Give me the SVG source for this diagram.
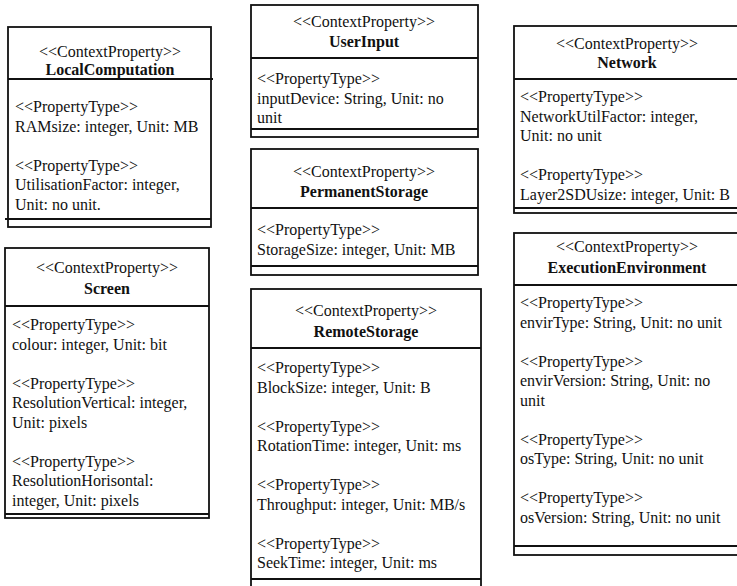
<svg xmlns="http://www.w3.org/2000/svg" width="737" height="586" viewBox="0 0 737 586">
  <style>
    .box { fill: #ffffff; stroke: #111111; stroke-width: 1.8; }
    .sep { stroke: #111111; stroke-width: 1.8; fill: none; }
    text { font-family: "Liberation Serif", "Times New Roman", serif; font-size: 16px; fill: #111111; }
    .st { text-anchor: middle; }
    .nm { text-anchor: middle; font-weight: bold; }
  </style>
  <rect width="737" height="586" fill="#ffffff"/>

  <!-- LocalComputation -->
  <g id="LocalComputation">
    <rect class="box" x="8" y="27" width="203" height="200"/>
    <line class="sep" x1="8" y1="79" x2="213" y2="79"/>
    <line class="sep" x1="5" y1="219" x2="211" y2="219"/>
    <text class="st" x="110" y="56.5">&lt;&lt;ContextProperty&gt;&gt;</text>
    <text class="nm" x="110" y="75">LocalComputation</text>
    <text x="15" y="112">&lt;&lt;PropertyType&gt;&gt;</text>
    <text x="15" y="131.5">RAMsize: integer, Unit: MB</text>
    <text x="15" y="170.5">&lt;&lt;PropertyType&gt;&gt;</text>
    <text x="15" y="190">UtilisationFactor: integer,</text>
    <text x="15" y="209.5">Unit: no unit.</text>
  </g>

  <!-- Screen -->
  <g id="Screen">
    <rect class="box" x="5" y="248" width="204" height="270"/>
    <line class="sep" x1="5" y1="306" x2="209" y2="306"/>
    <line class="sep" x1="5" y1="514" x2="209" y2="514"/>
    <text class="st" x="107" y="273">&lt;&lt;ContextProperty&gt;&gt;</text>
    <text class="nm" x="107" y="294">Screen</text>
    <text x="12" y="330">&lt;&lt;PropertyType&gt;&gt;</text>
    <text x="12" y="349.5">colour: integer, Unit: bit</text>
    <text x="12" y="388.5">&lt;&lt;PropertyType&gt;&gt;</text>
    <text x="12" y="408">ResolutionVertical: integer,</text>
    <text x="12" y="427.5">Unit: pixels</text>
    <text x="12" y="466.5">&lt;&lt;PropertyType&gt;&gt;</text>
    <text x="12" y="486">ResolutionHorisontal:</text>
    <text x="12" y="505.5">integer, Unit: pixels</text>
  </g>

  <!-- UserInput -->
  <g id="UserInput">
    <rect class="box" x="251" y="5" width="227" height="132"/>
    <line class="sep" x1="251" y1="58" x2="478" y2="58"/>
    <line class="sep" x1="251" y1="129" x2="478" y2="129"/>
    <text class="st" x="364" y="26.5">&lt;&lt;ContextProperty&gt;&gt;</text>
    <text class="nm" x="364" y="47">UserInput</text>
    <text x="257" y="84">&lt;&lt;PropertyType&gt;&gt;</text>
    <text x="257" y="103.5">inputDevice: String, Unit: no</text>
    <text x="257" y="123">unit</text>
  </g>

  <!-- PermanentStorage -->
  <g id="PermanentStorage">
    <rect class="box" x="251" y="149" width="227" height="126"/>
    <line class="sep" x1="251" y1="208" x2="478" y2="208"/>
    <line class="sep" x1="251" y1="266" x2="478" y2="266"/>
    <text class="st" x="364" y="177">&lt;&lt;ContextProperty&gt;&gt;</text>
    <text class="nm" x="364" y="197">PermanentStorage</text>
    <text x="257" y="235">&lt;&lt;PropertyType&gt;&gt;</text>
    <text x="257" y="254.5">StorageSize: integer, Unit: MB</text>
  </g>

  <!-- RemoteStorage -->
  <g id="RemoteStorage">
    <rect class="box" x="251" y="289" width="230" height="302"/>
    <line class="sep" x1="251" y1="348" x2="481" y2="348"/>
    <line class="sep" x1="251" y1="579" x2="481" y2="579"/>
    <text class="st" x="366" y="316">&lt;&lt;ContextProperty&gt;&gt;</text>
    <text class="nm" x="366" y="336.5">RemoteStorage</text>
    <text x="257" y="373">&lt;&lt;PropertyType&gt;&gt;</text>
    <text x="257" y="392.5">BlockSize: integer, Unit: B</text>
    <text x="257" y="431.5">&lt;&lt;PropertyType&gt;&gt;</text>
    <text x="257" y="451">RotationTime: integer, Unit: ms</text>
    <text x="257" y="490">&lt;&lt;PropertyType&gt;&gt;</text>
    <text x="257" y="509.5">Throughput: integer, Unit: MB/s</text>
    <text x="257" y="548.5">&lt;&lt;PropertyType&gt;&gt;</text>
    <text x="257" y="568">SeekTime: integer, Unit: ms</text>
  </g>

  <!-- Network -->
  <g id="Network">
    <rect class="box" x="514" y="26" width="226" height="187"/>
    <line class="sep" x1="514" y1="79" x2="740" y2="79"/>
    <line class="sep" x1="514" y1="208" x2="740" y2="208"/>
    <text class="st" x="627" y="49">&lt;&lt;ContextProperty&gt;&gt;</text>
    <text class="nm" x="627" y="67.5">Network</text>
    <text x="520" y="102">&lt;&lt;PropertyType&gt;&gt;</text>
    <text x="520" y="121.5">NetworkUtilFactor: integer,</text>
    <text x="520" y="141">Unit: no unit</text>
    <text x="520" y="180">&lt;&lt;PropertyType&gt;&gt;</text>
    <text x="520" y="199.5">Layer2SDUsize: integer, Unit: B</text>
  </g>

  <!-- ExecutionEnvironment -->
  <g id="ExecutionEnvironment">
    <rect class="box" x="514" y="233" width="226" height="322"/>
    <line class="sep" x1="514" y1="285" x2="740" y2="285"/>
    <line class="sep" x1="514" y1="546" x2="740" y2="546"/>
    <text class="st" x="627" y="252">&lt;&lt;ContextProperty&gt;&gt;</text>
    <text class="nm" x="627" y="272.5">ExecutionEnvironment</text>
    <text x="520" y="308">&lt;&lt;PropertyType&gt;&gt;</text>
    <text x="520" y="327.5">envirType: String, Unit: no unit</text>
    <text x="520" y="366.5">&lt;&lt;PropertyType&gt;&gt;</text>
    <text x="520" y="386">envirVersion: String, Unit: no</text>
    <text x="520" y="405.5">unit</text>
    <text x="520" y="444.5">&lt;&lt;PropertyType&gt;&gt;</text>
    <text x="520" y="464">osType: String, Unit: no unit</text>
    <text x="520" y="503">&lt;&lt;PropertyType&gt;&gt;</text>
    <text x="520" y="522.5">osVersion: String, Unit: no unit</text>
  </g>

  <!-- no associations between the classes -->
  <g id="connectors"/>
</svg>
